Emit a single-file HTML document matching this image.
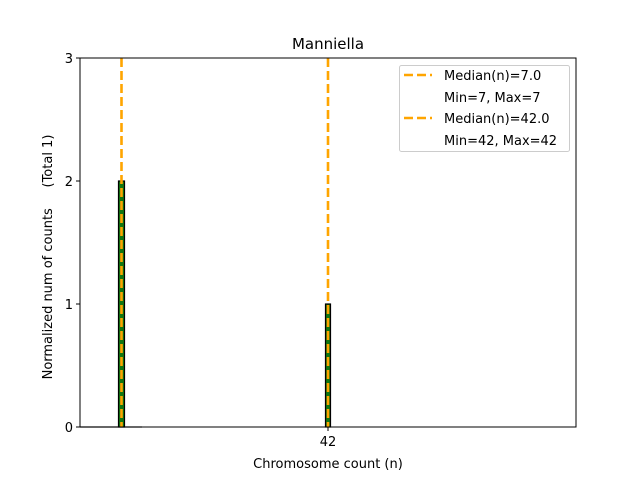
<!DOCTYPE html>
<html><head><style>body{margin:0;background:#fff}svg{display:block}text{font-family:"DejaVu Sans","Liberation Sans",sans-serif;fill:#000;white-space:pre}</style></head>
<body>
<svg width="640" height="480" viewBox="0 0 640 480" xmlns="http://www.w3.org/2000/svg">
<rect width="640" height="480" fill="#fff"/>
<line x1="80" y1="427" x2="142" y2="427" stroke="#999" stroke-width="1.5"/>
<rect x="118.5" y="181" width="6" height="246" fill="#117711" stroke="#000" stroke-width="1.2"/>
<rect x="325.5" y="304" width="5" height="123" fill="#117711" stroke="#000" stroke-width="1.2"/>
<line x1="121.5" y1="58" x2="121.5" y2="427" stroke="#FFA500" stroke-width="2.6" stroke-dasharray="9,4"/>
<line x1="328" y1="58" x2="328" y2="427" stroke="#FFA500" stroke-width="2.6" stroke-dasharray="9,4"/>
<rect x="80" y="58" width="496" height="369" fill="none" stroke="#000" stroke-width="1"/>
<g stroke="#000" stroke-width="1">
<line x1="76" y1="427" x2="80" y2="427"/><line x1="76" y1="304" x2="80" y2="304"/>
<line x1="76" y1="181" x2="80" y2="181"/><line x1="76" y1="58" x2="80" y2="58"/>
<line x1="328" y1="427" x2="328" y2="431"/>
</g>
<g font-size="13" text-anchor="end">
<text x="73" y="432">0</text><text x="73" y="309">1</text><text x="73" y="186">2</text><text x="73" y="63">3</text>
</g>
<text x="328" y="446" font-size="13" text-anchor="middle">42</text>
<text x="328" y="468" font-size="13" text-anchor="middle">Chromosome count (n)</text>
<text x="328" y="49" font-size="15" text-anchor="middle">Manniella</text>
<text transform="translate(52,257) rotate(-90)" font-size="13" text-anchor="middle" xml:space="preserve">Normalized num of counts     (Total 1)</text>
<rect x="399.5" y="65.5" width="170" height="86" rx="2" fill="#fff" stroke="#ccc" stroke-width="1"/>
<g stroke="#FFA500" stroke-width="2.6" stroke-dasharray="9,4">
<line x1="404" y1="75" x2="432" y2="75"/><line x1="404" y1="118" x2="432" y2="118"/>
</g>
<g font-size="13">
<text x="444" y="80">Median(n)=7.0</text>
<text x="444" y="102">Min=7, Max=7</text>
<text x="444" y="123">Median(n)=42.0</text>
<text x="444" y="145">Min=42, Max=42</text>
</g>
</svg>
</body></html>
